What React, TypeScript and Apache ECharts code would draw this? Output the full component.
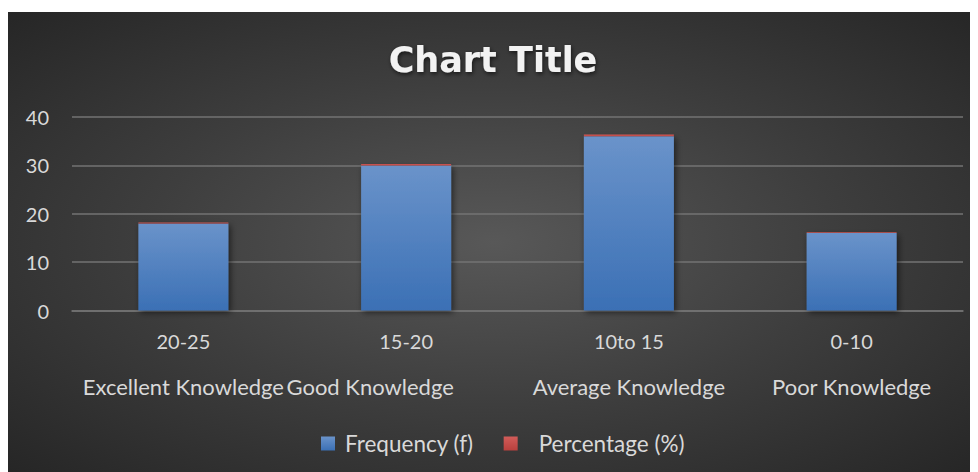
import React, { useEffect, useRef } from "react";
import * as echarts from "echarts";

const rangeLabels = ["20-25", "15-20", "10to 15", "0-10"];
const levelLabels = ["Excellent Knowledge", "Good Knowledge", "Average Knowledge", "Poor Knowledge"];
const frequency = [18, 30, 36, 16];
const percentage = [0.18, 0.3, 0.36, 0.16];
const yTicks = { min: 0, max: 40, interval: 10 };
const titleText = "Chart Title";
const seriesNames = ["Frequency (f)", "Percentage (%)"];

const textColor = "#d9d9d9";
const gridColor = "#737373";
const font = "Lato, 'Open Sans', sans-serif";

export default function App() {
  const ref = useRef<HTMLDivElement>(null);
  useEffect(() => {
    if (!ref.current) return;
    const chart = echarts.init(ref.current, null, { renderer: "svg" });
    const blue = new echarts.graphic.LinearGradient(0, 0, 0, 1, [
      { offset: 0, color: "#6a93ca" },
      { offset: 1, color: "#3b70b5" },
    ]);
    const red = new echarts.graphic.LinearGradient(0, 0, 0, 1, [
      { offset: 0, color: "#d25c59" },
      { offset: 1, color: "#b9403d" },
    ]);
    chart.setOption({
      animation: false,
      backgroundColor: "transparent",
      title: {
        text: titleText,
        left: "center",
        top: 25,
        textStyle: {
          fontFamily: "'DejaVu Sans', sans-serif",
          fontWeight: "bold",
          fontSize: 35,
          color: "#f2f2f2",
          textShadowColor: "rgba(0,0,0,0.6)",
          textShadowBlur: 4,
          textShadowOffsetX: 1,
          textShadowOffsetY: 2,
        },
      },
      grid: { left: 64, right: 15, top: 105, bottom: 161.5, containLabel: false },
      legend: {
        left: 308,
        top: 415,
        itemWidth: 14,
        itemHeight: 14,
        itemGap: 30,
        icon: "rect",
        data: [
          { name: seriesNames[0], textStyle: { padding: [0, 0, 0, 5] } },
          { name: seriesNames[1], textStyle: { padding: [0, 0, 0, 16] } },
        ],
        textStyle: { color: textColor, fontSize: 22.5, fontFamily: font },
      },
      xAxis: [
        {
          type: "category",
          data: rangeLabels,
          position: "bottom",
          axisLine: { show: true, lineStyle: { color: gridColor, width: 1.5 } },
          axisTick: { show: false },
          axisLabel: { color: textColor, fontSize: 20, fontFamily: font, margin: 20, interval: 0 },
        },
        {
          type: "category",
          data: levelLabels,
          position: "bottom",
          axisLine: { show: false },
          axisTick: { show: false },
          axisLabel: {
            color: textColor,
            fontSize: 22,
            fontFamily: font,
            margin: 65,
            interval: 0,
            formatter: (v: string, i: number) => (i === 1 ? "{g|" + v + "}" : v),
            rich: {
              g: { color: textColor, fontSize: 22, fontFamily: font, padding: [0, 72, 0, 0] },
            },
          },
        },
      ],
      yAxis: {
        type: "value",
        min: yTicks.min,
        max: yTicks.max,
        interval: yTicks.interval,
        axisLine: { show: false },
        axisTick: { show: false },
        splitLine: { lineStyle: { color: gridColor, width: 1.5 } },
        axisLabel: { color: textColor, fontSize: 20, fontFamily: font, margin: 23 },
      },
      series: [
        {
          name: seriesNames[0],
          type: "bar",
          stack: "total",
          xAxisIndex: 0,
          barWidth: 90,
          data: frequency,
          itemStyle: {
            color: blue,
            shadowColor: "rgba(0,0,0,0.55)",
            shadowBlur: 6,
            shadowOffsetX: 2,
            shadowOffsetY: 2,
          },
        },
        {
          name: seriesNames[1],
          type: "bar",
          stack: "total",
          xAxisIndex: 0,
          barWidth: 90,
          data: percentage,
          itemStyle: { color: red },
        },
      ],
    });
    return () => chart.dispose();
  }, []);
  return (
    <div
      ref={ref}
      style={{
        width: 970,
        height: 460,
        marginTop: 4,
        background:
          "radial-gradient(ellipse farthest-corner at 50% 50%, #585858 0%, #3e3e3e 50%, #262626 100%)",
      }}
    />
  );
}
